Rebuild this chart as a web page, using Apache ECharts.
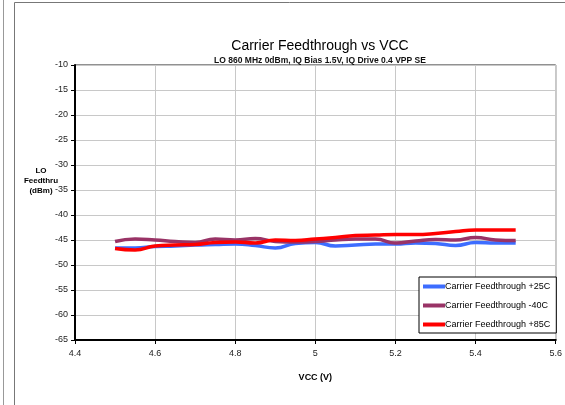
<!DOCTYPE html>
<html>
<head>
<meta charset="utf-8">
<script src="https://cdn.jsdelivr.net/npm/echarts@6/dist/echarts.min.js"></script>
<style>
  html, body { margin: 0; padding: 0; background: #fff; }
  #chart { width: 565px; height: 405px; }
</style>
</head>
<body>
<div id="chart"></div>
<script>
// VCC sweep points (V)
var vcc = [4.5, 4.55, 4.6, 4.65, 4.7, 4.75, 4.8, 4.85, 4.9, 4.95, 5.0,
           5.05, 5.1, 5.15, 5.2, 5.25, 5.3, 5.35, 5.4, 5.45, 5.5];
// LO feedthrough (dBm)
var ft25 = [-46.6, -46.6, -46.3, -46.2, -46.0, -45.9, -45.8, -46.1, -46.6, -45.7, -45.5,
            -46.2, -46.0, -45.8, -45.8, -45.6, -45.7, -46.1, -45.5, -45.6, -45.6];
var ftM40 = [-45.3, -44.8, -45.0, -45.3, -45.5, -44.8, -45.0, -44.7, -45.3, -45.4, -45.3,
             -45.0, -44.8, -44.8, -45.6, -45.2, -44.9, -45.0, -44.5, -45.0, -45.1];
var ft85 = [-46.7, -47.0, -46.2, -46.0, -45.9, -45.5, -45.4, -45.6, -45.0, -45.1, -44.8,
            -44.5, -44.1, -44.0, -43.9, -43.9, -43.7, -43.3, -43.0, -43.0, -43.0];
var seriesNames = ['Carrier Feedthrough +25C', 'Carrier Feedthrough -40C', 'Carrier Feedthrough +85C'];
var seriesColors = ['#3d6dff', '#993366', '#ff0000'];

function pairs(ys) {
  return vcc.map(function (x, i) { return [x, ys[i]] })
}

var chart = echarts.init(document.getElementById('chart'))
var fontFam = '"Liberation Sans Narrow", "Liberation Sans", Arial, sans-serif'
chart.setOption({
  animation: false,
  textStyle: { fontFamily: fontFam },
  graphic: [
    // outer frame lines like the spreadsheet chart border
    { type: 'line', shape: { x1: 3.5, y1: 0, x2: 3.5, y2: 405 }, style: { stroke: '#999', lineWidth: 1 } },
    { type: 'line', shape: { x1: 14.5, y1: 2.5, x2: 14.5, y2: 405 }, style: { stroke: '#777', lineWidth: 1 } },
    { type: 'line', shape: { x1: 14.5, y1: 2.5, x2: 565, y2: 2.5 }, style: { stroke: '#777', lineWidth: 1 } }
  ],
  title: [
    {
      text: 'Carrier Feedthrough vs VCC',
      left: 315, top: 34, textAlign: 'center',
      textStyle: { fontSize: 14, fontWeight: 500, color: '#000', fontFamily: 'Liberation Sans, Arial, sans-serif' }
    },
    {
      text: 'LO 860 MHz 0dBm, IQ Bias 1.5V, IQ Drive 0.4 VPP SE',
      left: 315, top: 51, textAlign: 'center',
      textStyle: { fontSize: 8.5, fontWeight: 'bold', color: '#111' }
    },
    {
      text: 'LO\nFeedthru\n(dBm)',
      left: 36, top: 161, textAlign: 'center',
      textStyle: { fontSize: 8, fontWeight: 'bold', color: '#000', lineHeight: 10 }
    }
  ],
  legend: {
    orient: 'vertical',
    left: 419, top: 277,
    width: 140,
    backgroundColor: '#fff',
    borderColor: '#000',
    borderWidth: 1,
    padding: [5, 6, 4, 4],
    itemGap: 10,
    itemWidth: 22,
    itemHeight: 4,
    icon: 'rect',
    textStyle: { fontSize: 9, color: '#000', padding: [0, 0, 0, -5] },
    data: seriesNames
  },
  grid: { left: 75, right: 9, top: 65, bottom: 65, show: true, borderColor: '#222', borderWidth: 1 },
  xAxis: {
    type: 'value',
    min: 4.4, max: 5.6, interval: 0.2,
    name: 'VCC (V)', nameLocation: 'middle', nameGap: 33,
    nameTextStyle: { fontSize: 9, fontWeight: 'bold', color: '#000' },
    axisLine: { onZero: false, lineStyle: { color: '#000', width: 2 } },
    axisTick: { show: true, length: 4, lineStyle: { color: '#000' } },
    axisLabel: { fontSize: 9, color: '#222', margin: 9,
      formatter: function (v) { return +v.toFixed(1) + '' } },
    splitLine: { show: true, lineStyle: { color: '#c8c8c8', width: 1 } }
  },
  yAxis: {
    type: 'value',
    min: -65, max: -10, interval: 5,
    axisLine: { show: true, onZero: false, lineStyle: { color: '#000', width: 2 } },
    axisTick: { show: true, length: 4, lineStyle: { color: '#000' } },
    axisLabel: { fontSize: 9, color: '#222', margin: 7 },
    splitLine: { show: true, lineStyle: { color: '#c8c8c8', width: 1 } }
  },
  series: [ft25, ftM40, ft85].map(function (ys, i) {
    return {
      name: seriesNames[i],
      type: 'line',
      data: pairs(ys),
      smooth: true,
      showSymbol: false,
      lineStyle: { color: seriesColors[i], width: 3.5 },
      itemStyle: { color: seriesColors[i] },
      z: 2 + i
    }
  })
})
</script>
</body>
</html>
